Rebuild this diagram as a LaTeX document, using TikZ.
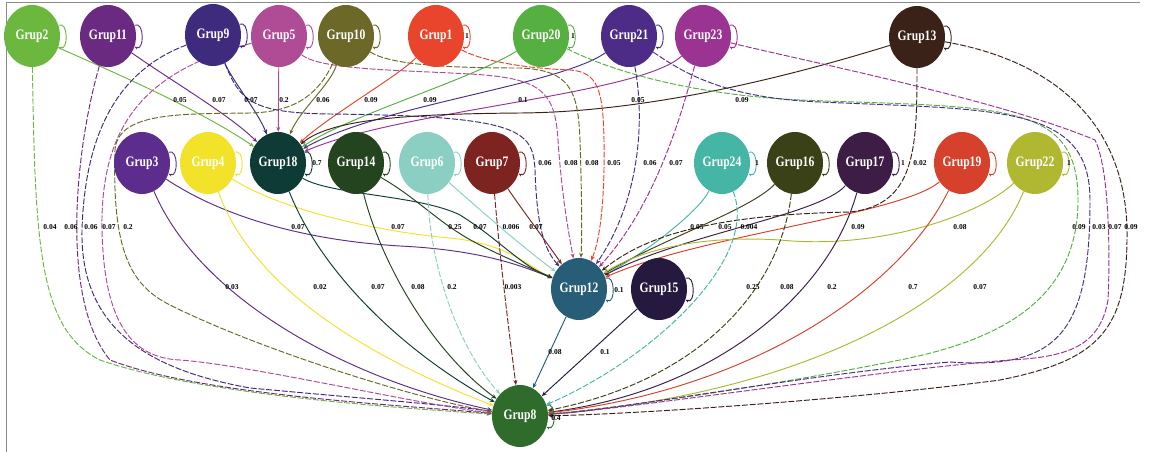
\documentclass[tikz,border=0pt]{standalone}
\usepackage{fontspec}
\usepackage{graphicx}
\setmainfont{Liberation Serif}
\usetikzlibrary{arrows.meta,shapes.geometric,backgrounds}
\definecolor{c2}{HTML}{6CB83F}
\definecolor{c11}{HTML}{6B2A82}
\definecolor{c9}{HTML}{3F2B7E}
\definecolor{c5}{HTML}{B04B96}
\definecolor{c10}{HTML}{6B6828}
\definecolor{c1}{HTML}{E8452C}
\definecolor{c20}{HTML}{55AF41}
\definecolor{c21}{HTML}{4C2C86}
\definecolor{c23}{HTML}{9B3392}
\definecolor{c13}{HTML}{3A2218}
\definecolor{c3}{HTML}{5C2D8C}
\definecolor{c4}{HTML}{F3E22A}
\definecolor{c18}{HTML}{0F3B36}
\definecolor{c14}{HTML}{24431F}
\definecolor{c6}{HTML}{8ACFC2}
\definecolor{c7}{HTML}{7E2420}
\definecolor{c24}{HTML}{45B5A6}
\definecolor{c16}{HTML}{3A4116}
\definecolor{c17}{HTML}{3D1C46}
\definecolor{c19}{HTML}{D6412B}
\definecolor{c22}{HTML}{B0B832}
\definecolor{c12}{HTML}{275D77}
\definecolor{c15}{HTML}{25193F}
\definecolor{c8}{HTML}{2F6B2B}
\definecolor{frame}{HTML}{8A8A8A}
\newcommand\grtext[1]{\scalebox{0.8}[1]{#1}}
\newcommand\mkloop[2]{\draw[draw=#2, line width=0.9pt, -{Stealth[length=3.5pt,width=3pt]}] (#1.22) .. controls +(10,-5) and +(10,5) .. (#1.-22);}
\begin{document}
\begin{tikzpicture}[x=1pt,y=-1pt,
  grp/.style={ellipse, minimum width=56pt, minimum height=62pt, inner sep=0pt,
    fill=#1, text=white, font=\fontsize{14.5}{14.5}\selectfont\bfseries},
  e/.style={draw=#1, line width=0.95pt, -{Stealth[length=5pt,width=4pt]}},
  ed/.style={e=#1, dash pattern=on 6pt off 1.8pt},
  lab/.style={font=\fontsize{7.5}{7.5}\selectfont\bfseries, inner sep=0pt, text=black}]
\useasboundingbox (0,0) rectangle (1149,452);
\draw[frame, line width=1pt] (6,452) -- (6,2.5) -- (1140,2.5);

% top row
\node[grp=c2] (g2) at (32,36) {\grtext{Grup2}};
\node[grp=c11] (g11) at (108,36) {\grtext{Grup11}};
\node[grp=c9] (g9) at (213,35) {\grtext{Grup9}};
\node[grp=c5] (g5) at (279,36) {\grtext{Grup5}};
\node[grp=c10] (g10) at (346,36) {\grtext{Grup10}};
\node[grp=c1] (g1) at (436,36) {\grtext{Grup1}};
\node[grp=c20] (g20) at (541,36) {\grtext{Grup20}};
\node[grp=c21] (g21) at (629,36) {\grtext{Grup21}};
\node[grp=c23] (g23) at (703,36) {\grtext{Grup23}};
\node[grp=c13] (g13) at (917,37) {\grtext{Grup13}};
% middle row
\node[grp=c3] (g3) at (142,163) {\grtext{Grup3}};
\node[grp=c4] (g4) at (208,163) {\grtext{Grup4}};
\node[grp=c18] (g18) at (278,163) {\grtext{Grup18}};
\node[grp=c14] (g14) at (356,163) {\grtext{Grup14}};
\node[grp=c6] (g6) at (427,163) {\grtext{Grup6}};
\node[grp=c7] (g7) at (492,163) {\grtext{Grup7}};
\node[grp=c24] (g24) at (722,163) {\grtext{Grup24}};
\node[grp=c16] (g16) at (795,163) {\grtext{Grup16}};
\node[grp=c17] (g17) at (865,163) {\grtext{Grup17}};
\node[grp=c19] (g19) at (962,163) {\grtext{Grup19}};
\node[grp=c22] (g22) at (1035,163) {\grtext{Grup22}};
% lower
\node[grp=c12] (g12) at (579,289) {\grtext{Grup12}};
\node[grp=c15] (g15) at (659,289) {\grtext{Grup15}};
\node[grp=c8] (g8) at (520,416) {\grtext{Grup8}};

% self loops
\mkloop{g2}{c2}\mkloop{g11}{c11}\mkloop{g9}{c9}\mkloop{g5}{c5}\mkloop{g10}{c10}
\mkloop{g1}{c1}\mkloop{g20}{c20}\mkloop{g21}{c21}\mkloop{g23}{c23}\mkloop{g13}{c13}
\mkloop{g3}{c3}\mkloop{g4}{c4}\mkloop{g18}{c18}\mkloop{g14}{c14}\mkloop{g6}{c6}
\mkloop{g7}{c7}\mkloop{g24}{c24}\mkloop{g16}{c16}\mkloop{g17}{c17}\mkloop{g19}{c19}
\mkloop{g22}{c22}\mkloop{g12}{c12}\mkloop{g15}{c15}\mkloop{g8}{c8}

\begin{pgfonlayer}{background}
% into Grup18
\draw[e=c2] (g2) .. controls (120,75) and (200,110) .. (g18);
\draw[e=c11] (g11) .. controls (170,80) and (230,115) .. (g18);
\draw[e=c9] (g9) .. controls (232,80) and (258,112) .. (g18);
\draw[e=c5] (g5) -- (g18);
\draw[e=c10] (g10) .. controls (330,85) and (300,110) .. (g18);
\draw[e=c1] (g1) .. controls (400,75) and (330,115) .. (g18);
\draw[e=c20] (g20) .. controls (470,80) and (350,115) .. (g18);
\draw[e=c21] (g21) .. controls (560,85) and (380,105) .. (g18);
\draw[e=c23] (g23) .. controls (640,95) and (400,110) .. (g18);
\draw[e=c13] (g13) .. controls (810,70) and (660,112) .. (520,113) .. controls (400,114) and (330,120) .. (g18);
% top row into Grup12
\draw[ed=c9] (g9) .. controls (240,100) and (250,113) .. (330,114) .. controls (520,116) and (533,130) .. (535,170) .. controls (537,230) and (545,250) .. (g12);
\draw[ed=c5] (g5) .. controls (320,70) and (400,70) .. (470,74) .. controls (540,78) and (555,90) .. (558,140) .. controls (562,200) and (570,240) .. (g12);
\draw[ed=c10] (g10) .. controls (390,65) and (450,68) .. (520,68) .. controls (570,70) and (578,90) .. (580,140) .. controls (582,200) and (582,240) .. (g12);
\draw[ed=c1] (g1) .. controls (480,60) and (520,68) .. (570,70) .. controls (598,72) and (603,90) .. (604,140) .. controls (605,200) and (600,240) .. (g12);
\draw[ed=c21] (g21) .. controls (645,120) and (640,200) .. (g12);
\draw[ed=c23] (g23) .. controls (685,100) and (660,200) .. (g12);
% middle row into Grup12
\draw[e=c3] (g3) .. controls (220,215) and (300,240) .. (400,246) .. controls (480,250) and (520,265) .. (g12);
\draw[e=c4] (g4) .. controls (280,210) and (380,232) .. (450,238) .. controls (510,244) and (530,268) .. (g12);
\draw[e=c18] (g18) .. controls (330,195) and (420,195) .. (460,215) .. controls (500,240) and (520,265) .. (g12);
\draw[e=c14] (g14) .. controls (420,200) and (440,225) .. (480,245) .. controls (510,260) and (530,268) .. (g12);
\draw[e=c6] (g6) .. controls (480,210) and (520,245) .. (g12);
\draw[e=c7] (g7) .. controls (515,200) and (545,240) .. (g12);
\draw[e=c24] (g24) .. controls (700,210) and (650,250) .. (g12);
\draw[e=c16] (g16) .. controls (750,210) and (660,240) .. (g12);
\draw[e=c17] (g17) .. controls (820,215) and (680,235) .. (g12);
\draw[e=c19] (g19) .. controls (900,215) and (700,235) .. (g12);
\draw[e=c22] (g22) .. controls (980,215) and (880,250) .. (780,240) .. controls (700,235) and (640,250) .. (g12);
\draw[ed=c13] (g13) .. controls (917,150) and (915,205) .. (850,212) .. controls (700,215) and (640,240) .. (g12);
% into Grup8
\draw[e=c12] (g12) -- (g8);
\draw[e=c15] (g15) -- (g8);
\draw[e=c3] (g3) .. controls (200,300) and (350,380) .. (g8);
\draw[e=c4] (g4) .. controls (250,280) and (350,350) .. (g8);
\draw[e=c18] (g18) .. controls (320,270) and (400,350) .. (g8);
\draw[e=c14] (g14) .. controls (380,260) and (430,350) .. (g8);
\draw[ed=c6] (g6) .. controls (430,270) and (460,350) .. (g8);
\draw[ed=c7] (g7) .. controls (500,260) and (510,340) .. (g8);
\draw[ed=c24] (g24) .. controls (760,260) and (650,360) .. (g8);
\draw[ed=c16] (g16) .. controls (780,290) and (700,380) .. (g8);
\draw[e=c17] (g17) .. controls (830,290) and (720,390) .. (g8);
\draw[e=c19] (g19) .. controls (900,290) and (750,390) .. (g8);
\draw[e=c22] (g22) .. controls (980,300) and (800,395) .. (g8);
% left long edges
\draw[ed=c2] (g2) .. controls (35,250) and (40,330) .. (100,360) .. controls (200,395) and (400,408) .. (g8);
\draw[ed=c11] (g11) .. controls (75,150) and (60,300) .. (110,360) .. controls (200,395) and (400,405) .. (g8);
\draw[ed=c9] (g9) .. controls (120,70) and (85,130) .. (82,230) .. controls (80,330) and (150,370) .. (250,388) .. controls (380,400) and (450,405) .. (g8);
\draw[ed=c5] (g5) .. controls (150,70) and (100,120) .. (102,230) .. controls (104,320) and (130,358) .. (180,360) .. controls (250,365) and (420,405) .. (g8);
\draw[ed=c10] (g10) .. controls (320,90) and (300,112) .. (250,113) .. controls (180,114) and (118,112) .. (115,150) .. controls (112,250) and (130,285) .. (170,305) .. controls (260,350) and (420,400) .. (g8);
% right long edges
\draw[ed=c20] (g20) .. controls (620,75) and (700,95) .. (800,100) .. controls (1000,108) and (1078,100) .. (1078,200) .. controls (1078,300) and (1000,340) .. (900,360) .. controls (750,390) and (600,410) .. (g8);
\draw[ed=c21] (g21) .. controls (680,70) and (720,98) .. (820,102) .. controls (1000,110) and (1090,105) .. (1090,200) .. controls (1090,330) and (1060,370) .. (950,362) .. controls (800,375) and (620,410) .. (g8);
\draw[ed=c23] (g23) .. controls (800,60) and (1000,100) .. (1095,140) .. controls (1110,170) and (1110,260) .. (1108,300) .. controls (1100,345) and (1070,357) .. (1010,360) .. controls (880,370) and (620,410) .. (g8);
\draw[ed=c13] (g13) .. controls (1050,60) and (1125,120) .. (1127,230) .. controls (1128,330) and (1100,360) .. (1000,380) .. controls (850,400) and (620,415) .. (g8);
\end{pgfonlayer}

% edge labels
\node[lab] (l1) at (180,100) {0.05};
\node[lab] (l2) at (219,100) {0.07};
\node[lab] (l3) at (251,100) {0.07};
\node[lab] (l4) at (284,100) {0.2};
\node[lab] (l5) at (323,100) {0.06};
\node[lab] (l6) at (371,100) {0.09};
\node[lab] (l7) at (430,100) {0.09};
\node[lab] (l8) at (523,100) {0.1};
\node[lab] (l9) at (638,100) {0.05};
\node[lab] (l10) at (742,100) {0.09};
\node[lab] (l11) at (545,163) {0.06};
\node[lab] (l12) at (571,163) {0.08};
\node[lab] (l13) at (592,163) {0.08};
\node[lab] (l14) at (614,163) {0.05};
\node[lab] (l15) at (650,163) {0.06};
\node[lab] (l16) at (676,163) {0.07};
\node[lab] (l17) at (920,163) {0.02};
\node[lab] (l18) at (298,227) {0.07};
\node[lab] (l19) at (398,227) {0.07};
\node[lab] (l20) at (455,227) {0.25};
\node[lab] (l21) at (480,227) {0.07};
\node[lab] (l22) at (511,227) {0.006};
\node[lab] (l23) at (536,227) {0.07};
\node[lab] (l24) at (697,227) {0.05};
\node[lab] (l25) at (725,227) {0.05};
\node[lab] (l26) at (749,227) {0.004};
\node[lab] (l27) at (858,227) {0.09};
\node[lab] (l28) at (960,227) {0.08};
\node[lab] (l29) at (50,227) {0.04};
\node[lab] (l30) at (71,227) {0.06};
\node[lab] (l31) at (91,227) {0.06};
\node[lab] (l32) at (109,227) {0.07};
\node[lab] (l33) at (128,227) {0.2};
\node[lab] (l34) at (1079,227) {0.09};
\node[lab] (l35) at (1099,227) {0.03};
\node[lab] (l36) at (1115,227) {0.07};
\node[lab] (l37) at (1131,227) {0.09};
\node[lab] (l38) at (232,287) {0.03};
\node[lab] (l39) at (320,287) {0.02};
\node[lab] (l40) at (378,287) {0.07};
\node[lab] (l41) at (418,287) {0.08};
\node[lab] (l42) at (452,287) {0.2};
\node[lab] (l43) at (513,287) {0.003};
\node[lab] (l44) at (753,287) {0.25};
\node[lab] (l45) at (787,287) {0.08};
\node[lab] (l46) at (832,287) {0.2};
\node[lab] (l47) at (913,287) {0.7};
\node[lab] (l48) at (980,287) {0.07};
\node[lab] (l49) at (555,352) {0.08};
\node[lab] (l50) at (605,352) {0.1};
\node[lab] (l51) at (317,163) {0.7};
\node[lab] (l52) at (619,290) {0.1};
\node[lab] (l53) at (556,418) {0.4};
\node[lab] (l54) at (467,36) {1};
\node[lab] (l55) at (573,36) {1};
\node[lab] (l56) at (757,163) {1};
\node[lab] (l57) at (903,163) {1};
\node[lab] (l58) at (1069,163) {1};
\end{tikzpicture}
\end{document}
